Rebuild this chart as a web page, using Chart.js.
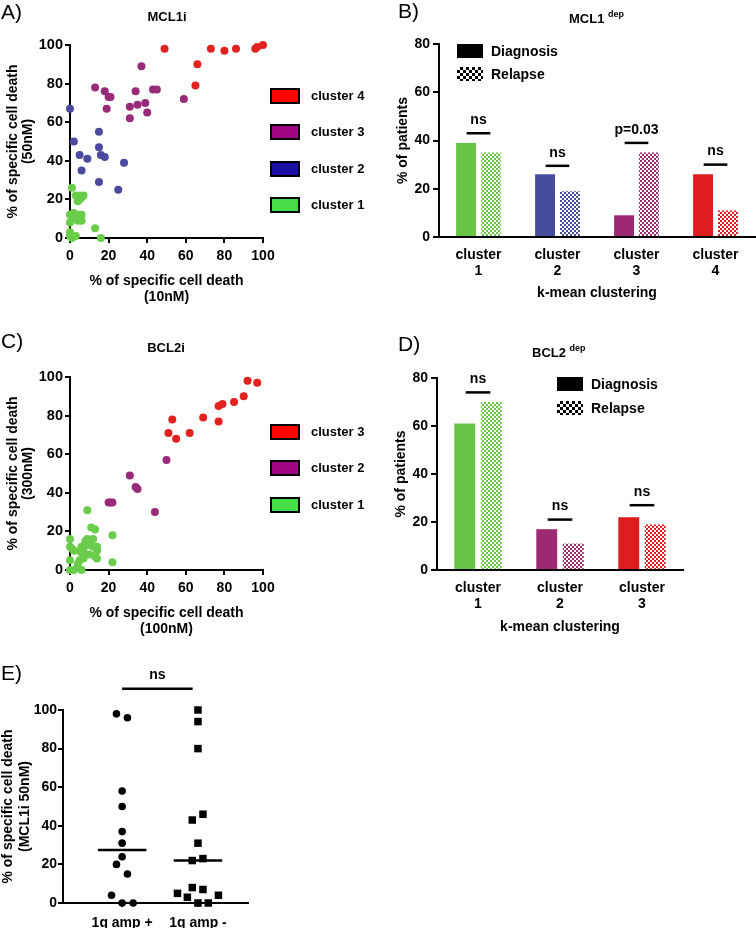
<!DOCTYPE html>
<html>
<head>
<meta charset="utf-8">
<script src="https://cdn.jsdelivr.net/npm/chart.js@4.4.1/dist/chart.umd.min.js"></script>
<style>
  body { margin: 0; background: #fff; }
  #page { position: relative; width: 756px; height: 928px; overflow: hidden; font-family: "Liberation Sans", Arial, Helvetica, sans-serif; color: #000; }
  canvas { position: absolute; }
  .t { position: absolute; white-space: nowrap; font-weight: bold; font-size: 13px; line-height: 16px; }
  .panel { font-weight: normal; font-size: 21px; line-height: 21px; }
  .sup { font-size: 9px; position: relative; top: -6px; }
  .sw { position: absolute; width: 26px; height: 12px; border: 2px solid #000; }
  .box { position: absolute; width: 26px; height: 14px; }
</style>
</head>
<body>
<div id="page">
  <canvas id="cA" width="280" height="306" style="left:0;top:0"></canvas>
  <canvas id="cB" width="376" height="305" style="left:380px;top:0"></canvas>
  <canvas id="cC" width="280" height="308" style="left:0;top:330px"></canvas>
  <canvas id="cD" width="376" height="310" style="left:380px;top:330px"></canvas>
  <canvas id="cE" width="262" height="292" style="left:0;top:640px"></canvas>
</div>
<script>
// ---- panel A: MCL1i, % specific cell death 10nM (x) vs 50nM (y)
const mcl1Cluster1 = [[1,26],[3,22],[4,21],[5,22],[7,22],[4,19],[5,20],[6,21],[0,12],[2,13],[3,12],[5,12],[6,12],[0,8],[2,10],[4,9],[6,9],[0,3],[0,1],[1,0],[3,1],[13,5],[16,0]];
const mcl1Cluster2 = [[0,67],[2,50],[5,43],[6,35],[9,41],[15,55],[15,47],[16,43],[18,42],[15,29],[28,39],[25,25]];
const mcl1Cluster3 = [[13,78],[18,76],[20,73],[21,73],[19,67],[31,68],[31,62],[35,69],[34,76],[37,89],[39,70],[40,65],[43,77],[45,77],[59,72]];
const mcl1Cluster4 = [[49,98],[65,79],[66,90],[73,98],[80,97],[86,98],[96,98],[97,99],[100,100]];

// ---- panel C: BCL2i, 100nM (x) vs 300nM (y)
const bcl2Cluster1 = [[9,31],[11,22],[13,21],[22,18],[22,4],[0,16],[0,12],[1,11],[2,10],[0,5],[0,0],[2,0],[6,0],[4,3],[5,5],[5,10],[6,9],[7,11],[8,14],[9,16],[8,15],[8,8],[10,8],[10,13],[12,16],[12,12],[14,12],[14,10],[14,6],[13,7],[6,12],[7,6]];
const bcl2Cluster2 = [[20,35],[21,35],[22,35],[31,49],[34,43],[35,42],[44,30],[50,57]];
const bcl2Cluster3 = [[51,71],[53,78],[55,68],[62,71],[69,79],[77,77],[77,85],[79,86],[85,87],[90,90],[92,98],[97,97]];

// ---- panel B: MCL1 dep, % of patients per cluster
const mcl1Groups = [['cluster','1'],['cluster','2'],['cluster','3'],['cluster','4']];
const mcl1Diagnosis = [39, 26, 9, 26];
const mcl1Relapse = [35, 19, 35, 11];
const mcl1SigLevel = [43, 29.5, 39, 30];
const mcl1SigText = ['ns', 'ns', 'p=0.03', 'ns'];

// ---- panel D: BCL2 dep
const bcl2Groups = [['cluster','1'],['cluster','2'],['cluster','3']];
const bcl2Diagnosis = [61, 17, 22];
const bcl2Relapse = [70, 11, 19];
const bcl2SigLevel = [74, 21, 27];
const bcl2SigText = ['ns', 'ns', 'ns'];

// ---- panel E: MCL1i 50nM by 1q amplification
const ampGroups = ['1q amp +', '1q amp -'];
const ampPlus = [98, 96, 58, 50, 37, 31, 24, 20, 15, 4, 0, 0];
const ampPlusJitter = [-0.075, 0.07, 0, 0, 0, 0, 0, -0.075, 0.07, -0.14, 0, 0.145];
const ampMinus = [100, 94, 80, 46, 43, 31, 23, 22, 8, 7, 5, 3, 4, 0, 0];
const ampMinusJitter = [0, 0, 0, 0.066, -0.075, 0, 0.066, -0.075, -0.075, 0.066, -0.27, -0.14, 0.27, 0, 0.136];
const ampMedian = [27.5, 22];
const ampSigLevel = 111;
const ampSigText = 'ns';

const FONT = '"Liberation Sans", Arial, Helvetica, sans-serif';
Chart.defaults.font.family = FONT;
Chart.defaults.font.weight = 'bold';
Chart.defaults.color = '#000';
Chart.defaults.animation = false;
Chart.defaults.plugins.legend.display = false;
Chart.defaults.plugins.tooltip.enabled = false;

const pointColors = ['#69cc4b', '#4b4a9e', '#982a7a', '#e2221f'];
const swatchColors = ['#46dd46', '#1c10a4', '#a0067f', '#ff0000'];
const barColors = ['#69c445', '#474c9b', '#9b2a73', '#de1e1e'];

const page = document.getElementById('page');

function text(html, x, y, extra, center) {
  const d = document.createElement('div');
  d.className = 't ' + (extra || '');
  d.innerHTML = html;
  d.style.left = x + 'px';
  d.style.top = y + 'px';
  d.style.transform = center ? 'translate(-50%,-50%)' : 'translateY(-50%)';
  page.appendChild(d);
  return d;
}

function checker(color) {
  const c = document.createElement('canvas');
  c.width = 4; c.height = 4;
  const g = c.getContext('2d');
  g.fillStyle = '#fff';
  g.fillRect(0, 0, 4, 4);
  g.fillStyle = color;
  g.fillRect(0, 0, 2, 2);
  g.fillRect(2, 2, 2, 2);
  return g.createPattern(c, 'repeat');
}

function axisGrid(len) {
  return { drawOnChartArea: false, color: '#000', lineWidth: 2, tickLength: len };
}
const blackBorder = { color: '#000', width: 2 };

function scatterChart(id, sets, xTitle, yTitle, top) {
  const datasets = sets.map((pts, i) => ({
    data: pts.map(p => ({ x: p[0], y: p[1] })),
    backgroundColor: pointColors[i],
    pointRadius: 4,
    borderWidth: 0,
    clip: false
  }));
  new Chart(document.getElementById(id), {
    type: 'scatter',
    data: { datasets: datasets },
    options: {
      responsive: false,
      devicePixelRatio: 1,
      layout: { padding: { top: top, right: 17, left: 0, bottom: 0 } },
      scales: {
        x: {
          min: 0, max: 100,
          ticks: { stepSize: 20, padding: 5, font: { size: 14 } },
          grid: axisGrid(5),
          border: blackBorder,
          title: { display: true, text: xTitle, font: { size: 14 }, padding: { top: 0, bottom: 0 } },
          afterFit: s => { s.height = 68; }
        },
        y: {
          min: 0, max: 100,
          ticks: { stepSize: 20, padding: 2, font: { size: 14.5 } },
          grid: axisGrid(5),
          border: blackBorder,
          title: { display: true, text: yTitle, font: { size: 14, lineHeight: 1.1 }, padding: { top: 5, bottom: 0 } },
          afterFit: s => { s.width = 70; }
        }
      }
    }
  });
}

function sigLines(levels, texts) {
  return {
    id: 'sig',
    afterDatasetsDraw(chart) {
      const { ctx, scales: { x, y } } = chart;
      const w = x.getPixelForValue(1) - x.getPixelForValue(0);
      ctx.save();
      ctx.strokeStyle = '#000';
      ctx.fillStyle = '#000';
      ctx.lineWidth = 2.5;
      ctx.font = 'bold 14px ' + FONT;
      ctx.textAlign = 'center';
      ctx.textBaseline = 'middle';
      levels.forEach((v, i) => {
        const cx = x.getPixelForValue(i);
        const py = y.getPixelForValue(v);
        ctx.beginPath();
        ctx.moveTo(cx - w * 0.15, py);
        ctx.lineTo(cx + w * 0.15, py);
        ctx.stroke();
        ctx.fillText(texts[i], cx, py - 13);
      });
      ctx.restore();
    }
  };
}

function barChart(id, groups, diag, rel, colors, levels, texts, geo) {
  const opts = { categoryPercentage: geo.cat, barPercentage: geo.bar, borderWidth: 0 };
  new Chart(document.getElementById(id), {
    type: 'bar',
    data: {
      labels: groups,
      datasets: [
        Object.assign({ label: 'Diagnosis', data: diag, backgroundColor: colors }, opts),
        Object.assign({ label: 'Relapse', data: rel, backgroundColor: colors.map(checker) }, opts)
      ]
    },
    options: {
      responsive: false,
      devicePixelRatio: 1,
      layout: { padding: { top: geo.top, right: geo.right, left: 0, bottom: 0 } },
      scales: {
        x: {
          grid: { drawOnChartArea: false, drawTicks: false },
          border: blackBorder,
          ticks: { padding: 10, font: { size: 14, lineHeight: 1.15 } },
          title: { display: true, text: 'k-mean clustering', font: { size: 14 }, padding: { top: 0, bottom: geo.tb } },
          afterFit: s => { s.height = geo.xh; }
        },
        y: {
          min: 0, max: 80,
          ticks: { stepSize: 20, padding: 3, font: { size: 14 } },
          grid: axisGrid(6),
          border: blackBorder,
          title: { display: true, text: '% of patients', font: { size: 14 }, padding: { top: geo.yt, bottom: 0 } },
          afterFit: s => { s.width = geo.yw; }
        }
      }
    },
    plugins: [sigLines(levels, texts)]
  });
}

// A
scatterChart('cA', [mcl1Cluster1, mcl1Cluster2, mcl1Cluster3, mcl1Cluster4],
  ['% of specific cell death', '(10nM)'], ['% of specific cell death', '(50nM)'], 45);
// C (no blue cluster here, so the colour slot stays empty)
scatterChart('cC', [bcl2Cluster1, [], bcl2Cluster2, bcl2Cluster3],
  ['% of specific cell death', '(100nM)'], ['% of specific cell death', '(300nM)'], 47);

// B
barChart('cB', mcl1Groups, mcl1Diagnosis, mcl1Relapse, barColors, mcl1SigLevel, mcl1SigText,
  { top: 44, right: 1, yw: 59, xh: 68, tb: 3, yt: 14.6, cat: 0.63, bar: 0.8 });
// D
barChart('cD', bcl2Groups, bcl2Diagnosis, bcl2Relapse, [barColors[0], barColors[2], barColors[3]], bcl2SigLevel, bcl2SigText,
  { top: 48, right: 73, yw: 57, xh: 70, tb: 4.6, yt: 12.6, cat: 0.646, bar: 0.79 });

// E
const ampMarks = {
  id: 'ampMarks',
  afterDatasetsDraw(chart) {
    const { ctx, scales: { x, y } } = chart;
    ctx.save();
    ctx.strokeStyle = '#000';
    ctx.fillStyle = '#000';
    ctx.lineWidth = 2.5;
    ampMedian.forEach((m, i) => {
      const py = y.getPixelForValue(m);
      ctx.beginPath();
      ctx.moveTo(x.getPixelForValue(i + 1 - 0.32), py);
      ctx.lineTo(x.getPixelForValue(i + 1 + 0.32), py);
      ctx.stroke();
    });
    const py = y.getPixelForValue(ampSigLevel);
    const x1 = x.getPixelForValue(1), x2 = x.getPixelForValue(1.93);
    ctx.beginPath();
    ctx.moveTo(x1, py);
    ctx.lineTo(x2, py);
    ctx.stroke();
    ctx.font = 'bold 14px ' + FONT;
    ctx.textAlign = 'center';
    ctx.textBaseline = 'middle';
    ctx.fillText(ampSigText, (x1 + x2) / 2, py - 14);
    ctx.restore();
  }
};

new Chart(document.getElementById('cE'), {
  type: 'scatter',
  data: {
    datasets: [
      { data: ampPlus.map((v, i) => ({ x: 1 + ampPlusJitter[i], y: v })), pointStyle: 'circle', pointRadius: 3.8, backgroundColor: '#000', borderWidth: 0, clip: false },
      { data: ampMinus.map((v, i) => ({ x: 2 + ampMinusJitter[i], y: v })), pointStyle: 'rect', pointRadius: 5.3, backgroundColor: '#000', borderWidth: 0, clip: false }
    ]
  },
  options: {
    responsive: false,
    devicePixelRatio: 1,
    layout: { padding: { top: 70, right: 14, left: 0, bottom: 0 } },
    scales: {
      x: {
        type: 'linear', min: 0.22, max: 2.66,
        afterBuildTicks: a => { a.ticks = ampGroups.map((g, i) => ({ value: i + 1 })); },
        ticks: { callback: (v, i) => ampGroups[i], padding: 8, font: { size: 14 } },
        grid: axisGrid(4),
        border: blackBorder,
        afterFit: s => { s.height = 29; }
      },
      y: {
        min: 0, max: 100,
        ticks: { stepSize: 20, padding: 1, font: { size: 14 } },
        grid: axisGrid(5),
        border: blackBorder,
        title: { display: true, text: ['% of specific cell death', '(MCL1i 50nM)'], font: { size: 14 }, padding: { top: 0, bottom: 0 } },
        afterFit: s => { s.width = 63; }
      }
    }
  },
  plugins: [ampMarks]
});

// panel letters and titles
text('A)', 1, 10.5, 'panel');
text('B)', 398, 10, 'panel');
text('C)', 1, 339.5, 'panel');
text('D)', 398, 342.5, 'panel');
text('E)', 1, 672, 'panel');
text('MCL1i', 167, 17, '', true);
text('BCL2i', 166, 348, '', true);
text('MCL1 <span class="sup">dep</span>', 569, 19);
text('BCL2 <span class="sup">dep</span>', 532, 353);

// cluster legends (A, C)
function clusterLegend(names, colors, centers) {
  names.forEach((n, i) => {
    const s = document.createElement('div');
    s.className = 'sw';
    s.style.left = '270px';
    s.style.top = (centers[i] - 8) + 'px';
    s.style.background = colors[i];
    page.appendChild(s);
    text(n, 311, centers[i]);
  });
}
clusterLegend(['cluster 4', 'cluster 3', 'cluster 2', 'cluster 1'],
  [swatchColors[3], swatchColors[2], swatchColors[1], swatchColors[0]], [96, 132, 169, 205]);
clusterLegend(['cluster 3', 'cluster 2', 'cluster 1'],
  [swatchColors[3], swatchColors[2], swatchColors[0]], [432, 468, 505]);

// Diagnosis / Relapse legends (B, D)
function statusLegend(x, y1, y2) {
  const a = document.createElement('div');
  a.className = 'box';
  a.style.left = x + 'px'; a.style.top = (y1 - 7) + 'px';
  a.style.background = '#000';
  page.appendChild(a);
  const b = document.createElement('div');
  b.className = 'box';
  b.style.left = x + 'px'; b.style.top = (y2 - 7) + 'px';
  b.style.background = 'repeating-conic-gradient(#000 0 25%, #fff 0 50%) 0 0 / 6px 6px';
  page.appendChild(b);
  text('Diagnosis', x + 34, y1).style.fontSize = '14px';
  text('Relapse', x + 34, y2).style.fontSize = '14px';
}
statusLegend(457, 51, 74);
statusLegend(557, 384, 408);
</script>
</body>
</html>
